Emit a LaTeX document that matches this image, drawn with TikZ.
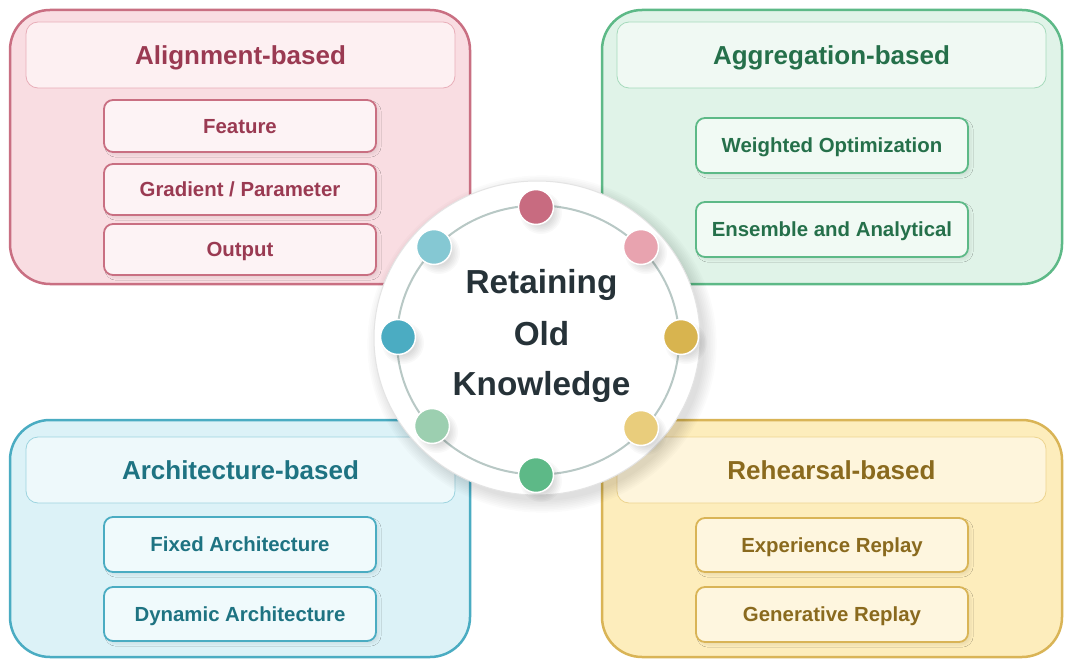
\documentclass[tikz,border=0pt]{standalone}
\usepackage{fontspec}
\setmainfont{Liberation Sans}
\usetikzlibrary{shadows.blur,shapes.geometric}
\pgfdeclarelayer{bg}
\pgfsetlayers{bg,main}
% pink
\definecolor{pkB}{HTML}{C96F82}\definecolor{pkF}{HTML}{F9DDE2}\definecolor{pkH}{HTML}{FDF0F2}
\definecolor{pkHB}{HTML}{E8AEB9}\definecolor{pkS}{HTML}{FDF3F5}\definecolor{pkT}{HTML}{9A3A52}
% green
\definecolor{gnB}{HTML}{5DB987}\definecolor{gnF}{HTML}{E0F3E8}\definecolor{gnH}{HTML}{F0F9F3}
\definecolor{gnHB}{HTML}{A5DABB}\definecolor{gnS}{HTML}{F1FAF4}\definecolor{gnT}{HTML}{25704A}
% teal
\definecolor{tlB}{HTML}{4AACC2}\definecolor{tlF}{HTML}{DCF2F7}\definecolor{tlH}{HTML}{EEF9FB}
\definecolor{tlHB}{HTML}{9DD4DF}\definecolor{tlS}{HTML}{F0FAFC}\definecolor{tlT}{HTML}{1E7382}
% gold
\definecolor{ylB}{HTML}{D9B456}\definecolor{ylF}{HTML}{FDEDBC}\definecolor{ylH}{HTML}{FEF5DC}
\definecolor{ylHB}{HTML}{EDD48F}\definecolor{ylS}{HTML}{FEF6DF}\definecolor{ylT}{HTML}{8A6A1E}
% misc
\definecolor{cTxt}{HTML}{263238}\definecolor{ringC}{HTML}{B8C8C5}\definecolor{outerB}{HTML}{E4E4E4}
\definecolor{dA}{HTML}{C86B80}\definecolor{dB}{HTML}{E8A3AF}\definecolor{dC}{HTML}{D8B44F}
\definecolor{dD}{HTML}{E9CD7C}\definecolor{dE}{HTML}{5DB987}\definecolor{dF}{HTML}{9CCFB0}
\definecolor{dG}{HTML}{4BACC2}\definecolor{dH}{HTML}{85C8D3}
\definecolor{cnP}{HTML}{D99AA8}\definecolor{cnT}{HTML}{86C8D4}\definecolor{cnG}{HTML}{5DB987}\definecolor{cnY}{HTML}{E8CB7E}
\tikzset{
  panel/.style={draw, line width=2.5pt, rounded corners=40pt, minimum width=460pt, inner sep=0pt},
  header/.style={draw, line width=0.8pt, rounded corners=12pt, minimum width=429pt, minimum height=66pt,
    font=\fontsize{26}{30}\selectfont\bfseries, text height=18.6pt, text depth=0pt},
  sub/.style={draw, line width=1.8pt, rounded corners=9pt, minimum width=272pt,
    font=\fontsize{20.4}{24}\selectfont\bfseries, text height=14.6pt, text depth=0pt,
    blur shadow={shadow xshift=3pt, shadow yshift=-3pt, shadow opacity=7, shadow blur steps=6}},
  pinkset/.style={fill=pkF, draw=pkB},
  greenset/.style={fill=gnF, draw=gnB},
  tealset/.style={fill=tlF, draw=tlB},
  goldset/.style={fill=ylF, draw=ylB},
  conn/.style={line width=7pt},
  dot/.style={circle, draw=white, line width=1.5pt, minimum size=35pt, inner sep=0pt},
  dotshadow/.style={fill=black, opacity=0.025},
  centertxt/.style={anchor=base, text=cTxt, font=\fontsize{33.3}{40}\selectfont\bfseries}
}
\begin{document}
\begin{tikzpicture}[x=1pt,y=-1pt]
\useasboundingbox (0,0) rectangle (1071,666);
\fill[white] (0,0) rectangle (1071,666);

% ---------- Alignment-based ----------
\node[panel, pinkset, minimum height=274pt] (A) at (240,147) {};
\node[header, fill=pkH, draw=pkHB, text=pkT] (Ah) at (240.5,55) {Alignment-based};
\node[sub, fill=pkS, draw=pkB, text=pkT, minimum height=52pt] (A1) at (240,126) {Feature};
\node[sub, fill=pkS, draw=pkB, text=pkT, minimum height=51pt] (A2) at (240,189.5) {Gradient / Parameter};
\node[sub, fill=pkS, draw=pkB, text=pkT, minimum height=51pt] (A3) at (240,249.5) {Output};

% ---------- Aggregation-based ----------
\node[panel, greenset, minimum height=274pt] (B) at (832,147) {};
\node[header, fill=gnH, draw=gnHB, text=gnT] (Bh) at (831.5,55) {Aggregation-based};
\node[sub, fill=gnS, draw=gnB, text=gnT, minimum height=55pt] (B1) at (832,145.5) {Weighted Optimization};
\node[sub, fill=gnS, draw=gnB, text=gnT, minimum height=55pt] (B2) at (832,229.5) {Ensemble and Analytical};

% ---------- Architecture-based ----------
\node[panel, tealset, minimum height=237pt] (C) at (240,538.5) {};
\node[header, fill=tlH, draw=tlHB, text=tlT] (Ch) at (240.5,470) {Architecture-based};
\node[sub, fill=tlS, draw=tlB, text=tlT, minimum height=55pt] (C1) at (240,544.5) {Fixed Architecture};
\node[sub, fill=tlS, draw=tlB, text=tlT, minimum height=54pt] (C2) at (240,614) {Dynamic Architecture};

% ---------- Rehearsal-based ----------
\node[panel, goldset, minimum height=237pt] (D) at (832,538.5) {};
\node[header, fill=ylH, draw=ylHB, text=ylT] (Dh) at (831.5,470) {Rehearsal-based};
\node[sub, fill=ylS, draw=ylB, text=ylT, minimum height=54pt] (D1) at (832,545) {Experience Replay};
\node[sub, fill=ylS, draw=ylB, text=ylT, minimum height=55pt] (D2) at (832,614.5) {Generative Replay};

% ---------- connectors (behind panels) ----------
\coordinate (ytop) at (0,103);
\coordinate (ybot) at (0,590);
\coordinate (xleft) at (226,0);
\coordinate (xright) at (846,0);
\begin{pgfonlayer}{bg}
  \draw[conn, cnP] (A.east |- ytop) -- (B.west |- ytop);
  \draw[conn, cnY] (C.east |- ybot) -- (D.west |- ybot);
  \draw[conn, cnT] (A.south -| xleft) -- (C.north -| xleft);
  \draw[conn, cnG] (B.south -| xright) -- (D.north -| xright);
\end{pgfonlayer}

% ---------- central circle ----------
\foreach \k in {1,...,8}{
  \fill[black, opacity=0.017] (542,344) ellipse ({161+1.7*\k} and {155+1.7*\k});
}
\node[ellipse, minimum width=326pt, minimum height=314pt, fill=white, draw=outerB, line width=1pt] (O) at (537,338) {};
\draw[ringC, line width=2pt] (538,340) ellipse (141 and 134.5);
% soft shadows under the dots
\foreach \px/\py in {536/207, 641/247, 681/337, 641/428, 536/475, 432/426, 398/337, 434/247}{
  \foreach \k in {0,...,5}{
    \fill[dotshadow] (\px+5,\py+6) circle ({13+1.6*\k});
  }
}
\node[dot, fill=dA] (d1) at (536,207) {};
\node[dot, fill=dB] (d2) at (641,247) {};
\node[dot, fill=dC] (d3) at (681,337) {};
\node[dot, fill=dD] (d4) at (641,428) {};
\node[dot, fill=dE] (d5) at (536,475) {};
\node[dot, fill=dF] (d6) at (432,426) {};
\node[dot, fill=dG] (d7) at (398,337) {};
\node[dot, fill=dH] (d8) at (434,247) {};
\node[centertxt] (t1) at (541.5,293) {Retaining};
\node[centertxt] (t2) at (541.5,345) {Old};
\node[centertxt] (t3) at (541.5,395) {Knowledge};
\end{tikzpicture}
\end{document}
